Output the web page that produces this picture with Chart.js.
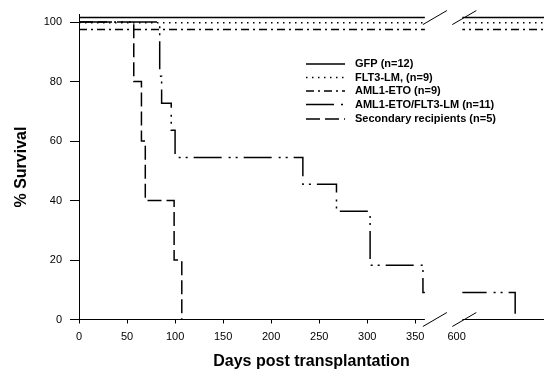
<!DOCTYPE html>
<html>
<head>
<meta charset="utf-8">
<script src="https://cdn.jsdelivr.net/npm/chart.js@4.4.1/dist/chart.umd.min.js"></script>
<style>
  html, body { margin: 0; padding: 0; background: #fff; }
  #wrap { width: 544px; height: 371px; }
</style>
</head>
<body>
<div id="wrap"><canvas id="survivalChart" width="544" height="371"></canvas></div>
<script>
// Kaplan-Meier curves: days post transplantation vs % survival
const seriesNames = ['GFP (n=12)', 'FLT3-LM, (n=9)', 'AML1-ETO (n=9)', 'AML1-ETO/FLT3-LM (n=11)', 'Secondary recipients (n=5)'];

// the three groups without deaths are drawn slightly apart around 100%
const gfpDays = [0, 700];
const gfpSurvival = [101.5, 101.5];
const flt3Days = [0, 700];
const flt3Survival = [99.8, 99.8];
const amlDays = [0, 700];
const amlSurvival = [97.5, 97.5];
const comboDays = [0, 84, 86, 96, 100, 233, 268, 303, 358, 661];
const comboSurvival = [100, 81.8, 72.7, 63.6, 54.5, 45.5, 36.4, 18.2, 9.1, 0];
const secondaryDays = [0, 57, 65, 69, 99, 107];
const secondarySurvival = [100, 80, 60, 40, 20, 0];

const xTickDays = [0, 50, 100, 150, 200, 250, 300, 350, 600];
const yTickValues = [0, 20, 40, 60, 80, 100];

// broken x axis: everything from day 600 on is shifted left
const BREAK_END = 600;
const BREAK_AT = 393;   // axis position where day 600 is drawn
const GAP_FROM = 360;   // days, start of the white gap
const GAP_TO = 606;     // days, end of the white gap

function axisX(day) {
    return day >= BREAK_END ? day - BREAK_END + BREAK_AT : day;
}
function dayFromAxis(v) {
    return v >= BREAK_AT ? v - BREAK_AT + BREAK_END : v;
}
function toPoints(days, values) {
    return days.map((d, i) => ({ x: axisX(d), y: values[i] }));
}

Chart.defaults.font.family = "'Liberation Sans', Arial, Helvetica, sans-serif";
Chart.defaults.color = '#000';

const lineStyles = [
    [],
    [1.5, 4.5],
    [8, 4, 2, 4],
    [28, 7, 2, 5, 2, 6],
    [14, 5]
];
const seriesData = [
    toPoints(gfpDays, gfpSurvival),
    toPoints(flt3Days, flt3Survival),
    toPoints(amlDays, amlSurvival),
    toPoints(comboDays, comboSurvival),
    toPoints(secondaryDays, secondarySurvival)
];

// white gap + slashes for the axis break, and the legend inside the plot
const breakAndLegend = {
    id: 'breakAndLegend',
    afterDatasetsDraw(chart) {
        const { ctx, chartArea } = chart;
        const xs = chart.scales.x;
        const left = xs.getPixelForValue(axisX(GAP_FROM));
        const right = xs.getPixelForValue(axisX(GAP_TO));
        ctx.save();
        ctx.fillStyle = '#fff';
        ctx.fillRect(left, chartArea.top - 2, right - left, chartArea.bottom - chartArea.top + 3);

        ctx.strokeStyle = '#000';
        ctx.lineWidth = 1;
        ctx.setLineDash([]);
        const topY = chart.scales.y.getPixelForValue(gfpSurvival[0]);
        [topY, chartArea.bottom].forEach(y => {
            [left - 2, right - 10].forEach(x0 => {
                ctx.beginPath();
                ctx.moveTo(x0, y + 7);
                ctx.lineTo(x0 + 24, y - 7);
                ctx.stroke();
            });
        });
        ctx.restore();
    },
    afterDraw(chart) {
        const { ctx } = chart;
        const rows = [64, 77.5, 91, 104.5, 119];
        ctx.save();
        ctx.font = "bold 11px 'Liberation Sans', Arial, sans-serif";
        ctx.textBaseline = 'middle';
        ctx.fillStyle = '#000';
        ctx.strokeStyle = '#000';
        ctx.lineWidth = 1.5;
        chart.data.datasets.forEach((ds, i) => {
            const y = rows[i];
            ctx.setLineDash(ds.borderDash || []);
            ctx.beginPath();
            ctx.moveTo(306, y);
            ctx.lineTo(345, y);
            ctx.stroke();
            ctx.fillText(ds.label, 355, y);
        });
        ctx.restore();
    }
};

new Chart(document.getElementById('survivalChart'), {
    type: 'line',
    data: {
        datasets: seriesNames.map((name, i) => ({
            label: name,
            data: seriesData[i],
            borderColor: '#000',
            borderWidth: 1.5,
            borderDash: lineStyles[i],
            stepped: 'before',
            pointRadius: 0,
            fill: false
        }))
    },
    options: {
        responsive: false,
        animation: false,
        layout: { padding: { top: 9, right: 0, bottom: 0, left: 0 } },
        plugins: {
            legend: { display: false },
            tooltip: { enabled: false }
        },
        scales: {
            x: {
                type: 'linear',
                min: 0,
                max: 484,
                afterFit: s => { s.height = 51.5; },
                afterBuildTicks: s => { s.ticks = xTickDays.map(d => ({ value: axisX(d) })); },
                ticks: {
                    autoSkip: false,
                    maxRotation: 0,
                    padding: 7,
                    font: { size: 11 },
                    callback: v => String(Math.round(dayFromAxis(v)))
                },
                grid: {
                    drawOnChartArea: false,
                    tickLength: 4,
                    color: c => (c.tick && c.tick.value === BREAK_AT ? 'rgba(0,0,0,0)' : '#000')
                },
                border: { color: '#000', width: 1 },
                title: {
                    display: true,
                    text: 'Days post transplantation',
                    font: { size: 16, weight: 'bold', lineHeight: 1 },
                    padding: { top: 0, bottom: 1 }
                }
            },
            y: {
                min: 0,
                max: 102.5,
                afterFit: s => { s.width = 79; },
                afterBuildTicks: s => { s.ticks = yTickValues.map(v => ({ value: v })); },
                ticks: { padding: 8, font: { size: 11 } },
                grid: { drawOnChartArea: false, tickLength: 9, color: '#000' },
                border: { color: '#000', width: 1 },
                title: {
                    display: true,
                    text: '% Survival',
                    font: { size: 16, weight: 'bold' },
                    padding: { top: 12, bottom: 0 }
                }
            }
        }
    },
    plugins: [breakAndLegend]
});
</script>
</body>
</html>
